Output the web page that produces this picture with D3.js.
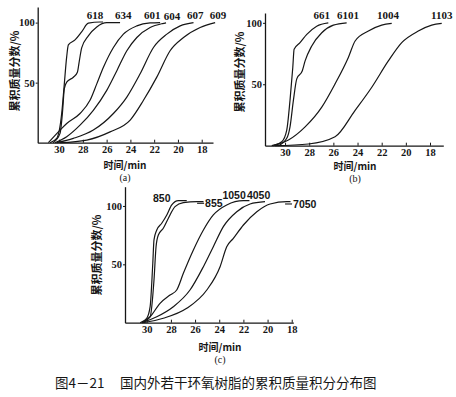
<!DOCTYPE html>
<html>
<head>
<meta charset="utf-8">
<script src="https://cdn.jsdelivr.net/npm/d3@7"></script>
<style>
	body { margin: 0; background: #fff; }
	.vis { width: 456px; height: 397px; }
</style>
</head>
<body>
<div class="vis"></div>
<script>

//********************//
//        DATA        //
//********************//

// x ticks (retention time, min) shared by all panels
var timeTicks = [30, 28, 26, 24, 22, 20, 18];
var valueTicks = [50, 100];

// panel (a): [time, cumulative mass %]
var namesA = ["618", "634", "601", "604", "607", "609"];
var s618 = [[30.76,0],[30.2,3.6],[29.78,24.5],[29.58,46.7],[29.36,71.7],[29.22,81.4],[28.66,85.6],[28.09,92.5],[27.54,99.5],[26.55,100.5],[26.3,100.5]];
var s634 = [[30.5,0],[29.92,7.8],[29.7,27],[29.56,45],[29.36,50.4],[28.8,54.5],[28.46,58.7],[28.3,68],[28.1,79],[27.54,89],[26.83,96.4],[25.99,100],[24.87,100]];
var s601 = [[30.9,0],[29.92,10.5],[29.36,16],[28.24,24.3],[27.4,35.3],[26.83,49],[26.27,62.8],[25.43,79.3],[24.59,90.4],[23.46,97.3],[22.34,99.7],[21.5,100]];
var s604 = [[30.34,0],[29.36,5],[28.24,14.6],[27.12,27],[25.99,43.6],[25.14,60],[24.3,76.6],[23.46,87.6],[22.34,95.9],[21.3,99.2],[21.0,99.8]];
var s607 = [[30.2,0],[28.8,3.6],[27.12,10.5],[25.43,24.3],[24.3,38],[23.18,57.4],[22.06,79.3],[20.93,90.4],[19.81,97.3],[18.69,100]];
var s609 = [[29.92,0],[27.67,2.2],[25.71,9],[24.02,18.8],[22.9,35.3],[21.78,54.6],[20.66,76.6],[19.53,87.6],[18.13,95.9],[16.87,100]];

// panel (b)
var namesB = ["661", "6101", "1004", "1103"];
var s661 = [[30.97,0],[30.27,3.2],[29.86,12.7],[29.59,36.9],[29.36,63.7],[29.25,78.5],[28.76,83.9],[28.2,90.6],[27.38,97.3],[26.42,100]];
var s6101 = [[30.55,0],[29.86,6],[29.59,15.3],[29.31,36.9],[29.03,54.4],[28.57,61],[28.34,69],[27.79,81.2],[26.96,91.9],[26.0,98.1],[24.9,100]];
var s1004 = [[31.1,0],[29.72,4.6],[28.34,15.3],[26.96,31.4],[25.86,50.3],[24.76,71.8],[24.2,85.2],[23.1,93.3],[22.0,98.1],[21.17,99.5]];
var s1103 = [[30.83,0],[28.07,1.4],[25.86,7.3],[24.2,28.8],[22.82,47.6],[21.45,69],[20.34,83.9],[18.97,93.3],[17.86,98.1],[17.03,99.5]];

// panel (c)
var namesC = ["850", "855", "1050", "4050", "7050"];
var s850 = [[30.55,0],[30.0,3.8],[29.72,13.7],[29.5,50.9],[29.4,70.9],[29.17,79.4],[28.76,85.2],[28.34,92.3],[27.93,100.9],[27.38,104.5],[26.69,104.5]];
var s855 = [[30.41,0],[29.72,5.1],[29.4,36.6],[29.23,65.1],[29.04,75.1],[28.63,80.9],[28.21,89.5],[27.66,99.4],[26.97,102.8],[25.86,103.7],[25.3,103.7]];
var s1050 = [[30.41,0],[29.72,5.1],[28.9,16.6],[28.07,23.7],[27.52,28],[26.97,42.3],[26.14,62.3],[25.31,79.4],[24.49,92.3],[23.38,100.9],[22.0,104.5],[21.5,104.5]];
var s4050 = [[30.41,0],[29.17,5.1],[27.8,13.7],[26.42,28],[25.31,48],[24.49,65.1],[23.66,82.3],[22.55,95.1],[21.45,101.7],[20.21,103.7]];
var s7050 = [[30.28,0],[28.63,3.8],[26.69,12.3],[25.03,28],[23.93,48],[23.38,65.1],[22.83,72.3],[22.0,83.7],[20.89,95.1],[19.79,101.7],[18.41,103.7],[18.1,103.7]];

var yTitle = "累积质量分数/%";
var xTitle = "时间/min";
var captionNum = "图4－21";
var captionText = "国内外若干环氧树脂的累积质量积分分布图";


//********************//
//       LAYOUT       //
//********************//

var panels = [
	{
		tag: "(a)", names: namesA, series: [s618, s634, s601, s604, s607, s609],
		x: [37.7, 213], xDom: [31.8, 17.05],
		y: [142.7, 7], yTop: 113,
		labelFont: "Liberation Serif", labelSize: 11,
		labels: [[26.97,106],[24.6,106],[22.17,106],[20.49,105],[18.55,106],[16.62,106]],
		yTitleX: 15, yTitleY: 71, xTitleX: 125, xTitleY: 169, tagY: 181
	},
	{
		tag: "(b)", names: namesB, series: [s661, s6101, s1004, s1103],
		x: [265, 443.3], xDom: [31.66, 16.9],
		y: [145.7, 13], yTop: 108,
		labelFont: "Liberation Serif", labelSize: 11,
		labels: [[26.96,106.3],[24.78,106.3],[21.47,106.3],[17.03,106.3]],
		yTitleX: 240, yTitleY: 72, xTitleX: 355, xTitleY: 170, tagY: 182
	},
	{
		tag: "(c)", names: namesC, series: [s850, s855, s1050, s4050, s7050],
		x: [125, 293.3], xDom: [31.8, 17.87],
		y: [322.7, 186.7], yTop: 116.5,
		labelFont: "Liberation Sans", labelSize: 10.5,
		labels: [[28.76,106.6],[25.17,102.3,"lead"],[22.77,109.4],[20.74,108.8],[17.89,101.7,"lead"]],
		yTitleX: 97, yTitleY: 255, xTitleX: 220, xTitleY: 350.5, tagY: 363
	}
];

var ink = "#161616";

var svg = d3.select(".vis").append("svg")
	.attr("width", 456)
	.attr("height", 397);

panels.forEach(function(p) {
	var x = d3.scaleLinear().domain(p.xDom).range(p.x);
	var y = d3.scaleLinear().domain([0, p.yTop]).range(p.y);
	var g = svg.append("g");

	// x axis, small ticks pointing up
	var xg = g.append("g")
		.attr("transform", "translate(0," + p.y[0] + ")")
		.call(d3.axisBottom(x).tickValues(timeTicks).tickSizeInner(-3).tickSizeOuter(0).tickPadding(2.5));

	// y axis
	var yg = g.append("g")
		.attr("transform", "translate(" + p.x[0] + ",0)")
		.call(d3.axisLeft(y).tickValues(valueTicks).tickSizeInner(2).tickSizeOuter(0).tickPadding(1));

	[xg, yg].forEach(function(a) {
		a.select(".domain").attr("stroke", ink).attr("stroke-width", 1.3);
		a.selectAll(".tick line").attr("stroke", ink).attr("stroke-width", 1);
		a.selectAll(".tick text")
			.attr("fill", ink)
			.style("font-family", "Liberation Serif")
			.style("font-size", "10.5px")
			.style("font-weight", "bold");
	});

	var line = d3.line()
		.x(function(d) { return x(d[0]); })
		.y(function(d) { return y(d[1]); })
		.curve(d3.curveMonotoneX);

	g.selectAll(".curve")
		.data(p.series)
		.enter().append("path")
		.attr("class", "curve")
		.attr("d", line)
		.attr("fill", "none")
		.attr("stroke", ink)
		.attr("stroke-width", 1.2);

	// curve names
	p.labels.forEach(function(l, i) {
		var lx = x(l[0]), ly = y(l[1]);
		if (l[2] === "lead") {
			g.append("line")
				.attr("x1", lx - 8).attr("x2", lx - 1)
				.attr("y1", ly).attr("y2", ly)
				.attr("stroke", ink).attr("stroke-width", 1.1);
		}
		g.append("text")
			.attr("x", lx)
			.attr("y", ly)
			.attr("dy", "0.35em")
			.attr("text-anchor", l[2] === "lead" ? "start" : "middle")
			.attr("fill", ink)
			.style("font-family", p.labelFont)
			.style("font-size", p.labelSize + "px")
			.style("font-weight", "bold")
			.text(p.names[i]);
	});

	// axis titles
	g.append("text")
		.attr("transform", "translate(" + p.yTitleX + "," + p.yTitleY + ") rotate(-90)")
		.attr("text-anchor", "middle")
		.attr("dy", "0.35em")
		.attr("fill", ink)
		.style("font-family", "Noto Sans CJK SC")
		.style("font-size", "11px")
		.style("font-weight", "bold")
		.text(yTitle);

	g.append("text")
		.attr("x", p.xTitleX)
		.attr("y", p.xTitleY)
		.attr("text-anchor", "middle")
		.attr("fill", ink)
		.style("font-family", "Noto Sans CJK SC")
		.style("font-size", "10px")
		.style("font-weight", "bold")
		.text(xTitle);

	g.append("text")
		.attr("x", p.xTitleX)
		.attr("y", p.tagY)
		.attr("text-anchor", "middle")
		.attr("fill", ink)
		.style("font-family", "Liberation Serif")
		.style("font-size", "10px")
		.text(p.tag);
});

// figure caption
svg.append("text")
	.attr("x", 55)
	.attr("y", 388)
	.attr("fill", ink)
	.style("font-family", "Noto Sans CJK SC")
	.style("font-size", "13.5px")
	.text(captionNum);

svg.append("text")
	.attr("x", 120)
	.attr("y", 388)
	.attr("fill", ink)
	.style("font-family", "Noto Sans CJK SC")
	.style("font-size", "13.5px")
	.text(captionText);

</script>
</body>
</html>
